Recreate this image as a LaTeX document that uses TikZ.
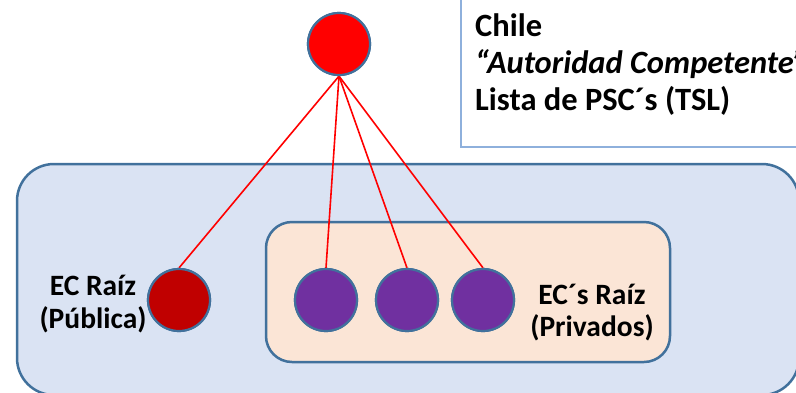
\documentclass[tikz,border=0pt]{standalone}
\usepackage{fontspec}
\setmainfont{Carlito}
\definecolor{outerfill}{HTML}{DAE3F3}
\definecolor{innerfill}{HTML}{FBE5D6}
\definecolor{boxline}{HTML}{41719C}
\definecolor{textline}{HTML}{8EB0DC}
\definecolor{darkred}{HTML}{C00000}
\definecolor{purp}{HTML}{7030A0}
\tikzset{
  roundbox/.style={draw=boxline, line width=2.5pt, rectangle, inner sep=0pt},
  dot/.style={circle, draw=boxline, line width=2.2pt, minimum size=62pt, inner sep=0pt},
  link/.style={draw=red, line width=1.6pt},
  bigtext/.style={font=\bfseries\fontsize{32.5}{37}\selectfont, inner sep=0pt, anchor=base west},
  lbl/.style={font=\bfseries\fontsize{29.5}{33}\selectfont, inner sep=0pt, anchor=base}
}
\begin{document}
\begin{tikzpicture}[x=1pt,y=-1pt]
\useasboundingbox (0,0) rectangle (796,392);
\clip (0,0) rectangle (796,392);
% text box
\node[draw=textline, line width=1.6pt, fill=white, rectangle, inner sep=0pt,
      minimum width=349pt, minimum height=167pt] (tbox) at (635.5,63.5) {};
\node[bigtext] (t1) at (475,36) {Chile};
\node[bigtext] (t2) at (475,73) {\itshape “Autoridad Competente”};
\node[bigtext] (t3) at (475,110) {Lista de PSC´s (TSL)};
% outer and inner boxes
\node[roundbox, fill=outerfill, rounded corners=37pt,
      minimum width=782pt, minimum height=231pt] (outer) at (408,279.5) {};
\node[roundbox, fill=innerfill, rounded corners=26pt,
      minimum width=404pt, minimum height=140pt] (inner) at (468,292) {};
% circles
\node[dot, fill=red] (top) at (339,44) {};
\node[dot, fill=darkred] (pub) at (179,300) {};
\node[dot, fill=purp] (p1) at (326,300) {};
\node[dot, fill=purp] (p2) at (407,300) {};
\node[dot, fill=purp] (p3) at (483,300) {};
% links
\draw[link] (top.south) -- (pub.north);
\draw[link] (top.south) -- (p1.north);
\draw[link] (top.south) -- (p2.north);
\draw[link] (top.south) -- (p3.north);
% redraw circles above links
\node[dot, fill=red] at (top) {};
\node[dot, fill=darkred] at (pub) {};
\node[dot, fill=purp] at (p1) {};
\node[dot, fill=purp] at (p2) {};
\node[dot, fill=purp] at (p3) {};
% labels
\node[lbl] (lpub1) at (93,295) {EC Raíz};
\node[lbl] (lpub2) at (93,328) {(Pública)};
\node[lbl] (lpriv1) at (592,304) {EC´s Raíz};
\node[lbl] (lpriv2) at (592,336) {(Privados)};
\end{tikzpicture}
\end{document}
